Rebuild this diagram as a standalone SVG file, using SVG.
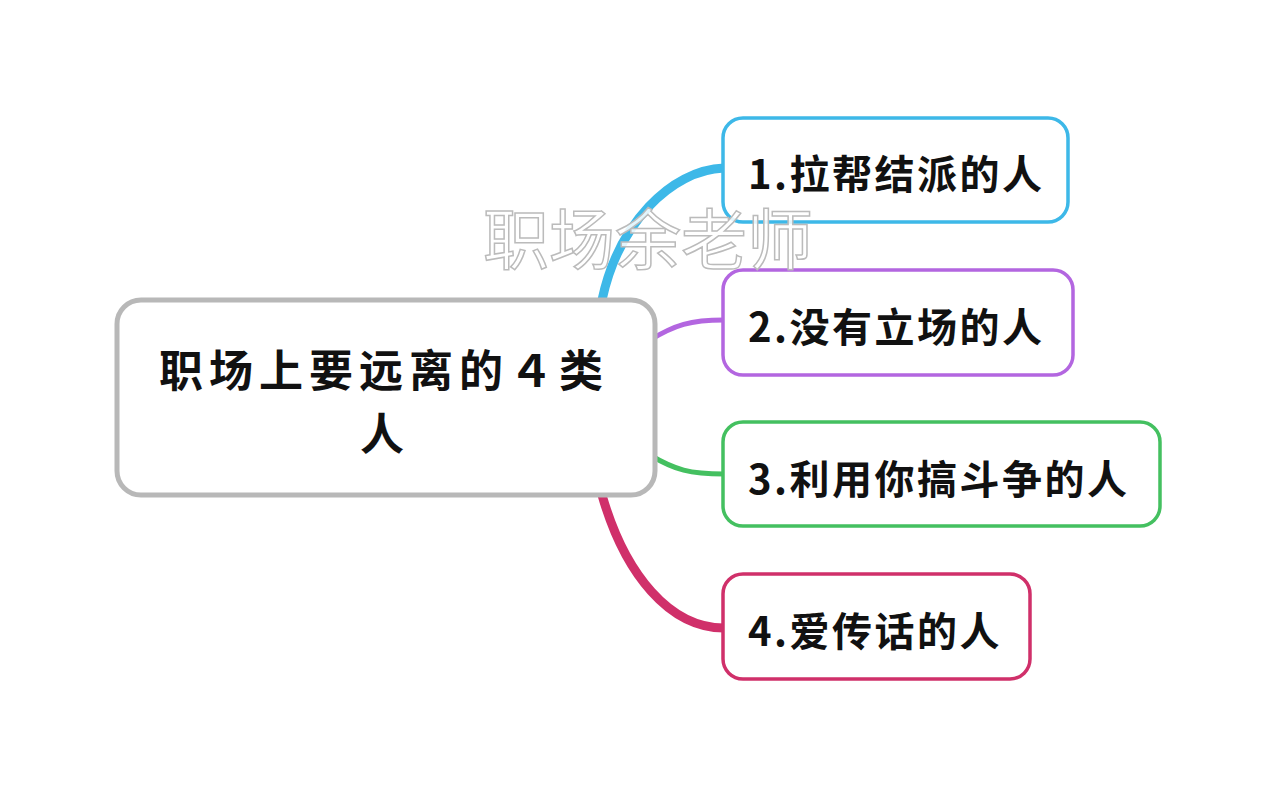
<svg xmlns="http://www.w3.org/2000/svg" width="1280" height="798" viewBox="0 0 1280 798">
<style>
.n{fill:#fff;stroke-width:3.5}
.t{font-family:"Noto Sans CJK SC","Liberation Sans",sans-serif;font-weight:bold;fill:#111}
.b{font-size:40px;letter-spacing:2.5px}
.c{fill:none;stroke-linecap:round}
</style>
<rect width="1280" height="798" fill="#fff"/>
<g id="connectors">
<path class="c" d="M602,300 C618,225 670,170 724,168" stroke="#3db8e8" stroke-width="9"/>
<path class="c" d="M650,340 C675,325 690,320 724,320" stroke="#b366e0" stroke-width="5"/>
<path class="c" d="M650,455 C675,470 690,474 724,474" stroke="#44c060" stroke-width="5"/>
<path class="c" d="M602,495 C625,575 670,628 724,628" stroke="#d0306a" stroke-width="9"/>
</g>
<g id="center">
<rect x="117" y="300" width="538" height="195" rx="24" fill="#fff" stroke="#b8b8b8" stroke-width="5"/>
<text class="t" x="384" y="387" font-size="44" letter-spacing="6" text-anchor="middle">职场上要远离的４类</text>
<text class="t" x="382" y="450" font-size="44" text-anchor="middle">人</text>
</g>
<g id="n1"><rect class="n" x="723" y="118" width="345" height="104" rx="20" stroke="#3db8e8"/><text class="t b" x="748" y="189">1.拉帮结派的人</text></g>
<g id="n2"><rect class="n" x="723" y="270" width="350" height="105" rx="20" stroke="#b366e0"/><text class="t b" x="748" y="342">2.没有立场的人</text></g>
<g id="n3"><rect class="n" x="723" y="422" width="437" height="104" rx="20" stroke="#44c060"/><text class="t b" x="748" y="494">3.利用你搞斗争的人</text></g>
<g id="n4"><rect class="n" x="723" y="574" width="307" height="105" rx="20" stroke="#d0306a"/><text class="t b" x="748" y="646">4.爱传话的人</text></g>
<text x="648" y="264" font-size="66" text-anchor="middle" font-family="'Noto Sans CJK SC',sans-serif" fill="#fff" fill-opacity="0.85" stroke="#bbb" stroke-width="1.5">职场余老师</text>
</svg>
